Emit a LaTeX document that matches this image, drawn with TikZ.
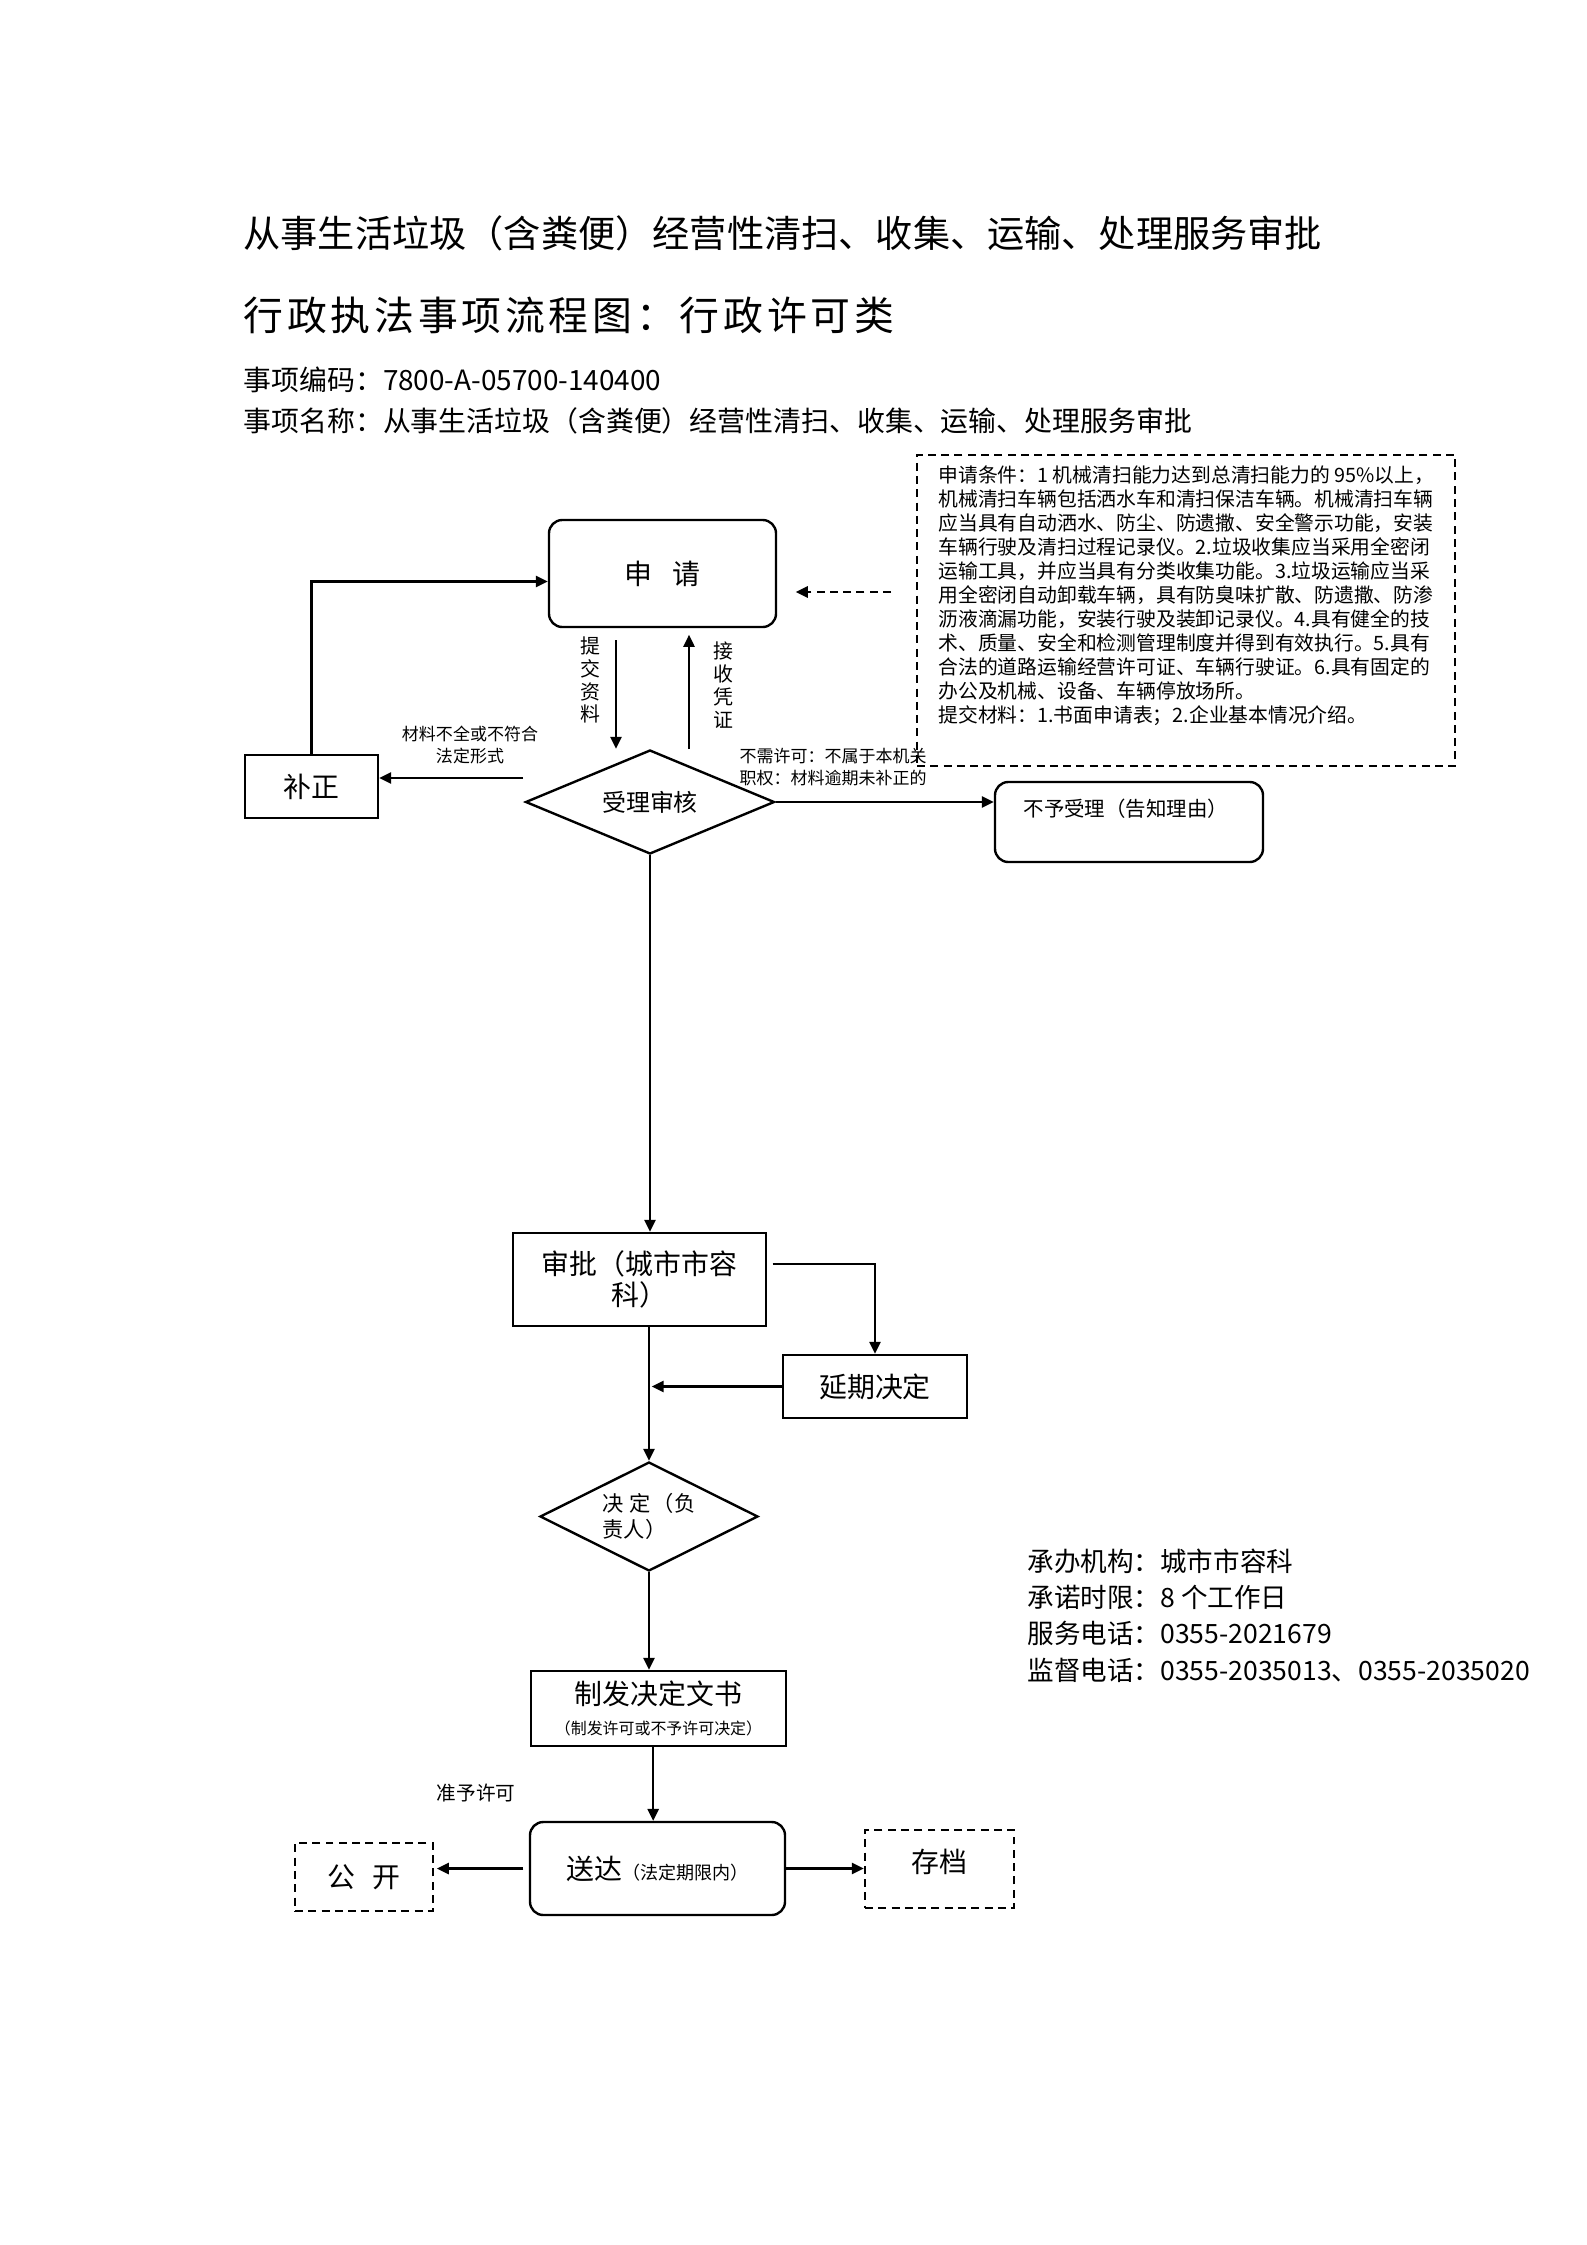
\documentclass[tikz,border=0pt]{standalone}
\usepackage{fontspec}
\setmainfont{Noto Sans CJK SC}
\newfontfamily\spacedfont{Noto Sans CJK SC}[LetterSpace=9.5]
\usepackage{tikz}
\usetikzlibrary{arrows.meta, shapes.geometric}
\definecolor{ink}{HTML}{000000}
\newlength{\pxu}
\setlength{\pxu}{0.013233cm}
\tikzset{
  stepbox/.style  = {rectangle, draw=ink, line width=0.9pt, inner sep=0pt,
                     align=center, font=\fontsize{10.5}{12}\selectfont},
  roundbox/.style = {stepbox, rounded corners=5pt},
  dashbox/.style  = {stepbox, dash pattern=on 3pt off 2pt},
  choice/.style   = {diamond, draw=ink, line width=0.9pt, inner sep=0pt,
                     align=center, aspect=2},
  tag/.style      = {inner sep=0pt, align=center, font=\fontsize{6.4}{8}\selectfont},
  headline/.style = {anchor=west, inner sep=0pt},
  ar/.style       = {-{Triangle[length=4.5pt,width=4.2pt]}, line width=0.8pt, draw=ink},
  dar/.style      = {ar, dash pattern=on 3pt off 2pt},
}

\begin{document}
\begin{tikzpicture}[x=1\pxu, y=-1\pxu]
  \useasboundingbox (0,0) rectangle (1587,2245);

  % header
  \node[headline, font=\fontsize{14}{16}\selectfont] (title) at (243,233)
       {从事生活垃圾（含粪便）经营性清扫、收集、运输、处理服务审批};
  \node[headline, font=\spacedfont\fontsize{15}{17}\selectfont] (subtitle) at (243,315)
       {行政执法事项流程图：行政许可类};
  \node[headline, font=\fontsize{10.5}{12}\selectfont] (code) at (243,380)
       {事项编码：7800-A-05700-140400};
  \node[headline, font=\fontsize{10.5}{12}\selectfont] (name) at (243,421)
       {事项名称：从事生活垃圾（含粪便）经营性清扫、收集、运输、处理服务审批};

  % conditions
  \node[dashbox, minimum width=538\pxu, minimum height=311\pxu] (cond) at (1186,610.5) {};
  \node[headline, align=left, font=\fontsize{7.45}{9.02}\selectfont] (condtext) at (938,596)
       {申请条件：1 机械清扫能力达到总清扫能力的 95\%以上，\\
        机械清扫车辆包括洒水车和清扫保洁车辆。机械清扫车辆\\
        应当具有自动洒水、防尘、防遗撒、安全警示功能，安装\\
        车辆行驶及清扫过程记录仪。2.垃圾收集应当采用全密闭\\
        运输工具，并应当具有分类收集功能。3.垃圾运输应当采\\
        用全密闭自动卸载车辆，具有防臭味扩散、防遗撒、防渗\\
        沥液滴漏功能，安装行驶及装卸记录仪。4.具有健全的技\\
        术、质量、安全和检测管理制度并得到有效执行。5.具有\\
        合法的道路运输经营许可证、车辆行驶证。6.具有固定的\\
        办公及机械、设备、车辆停放场所。\\
        提交材料：1.书面申请表；2.企业基本情况介绍。};

  % flow
  \node[roundbox, minimum width=227\pxu, minimum height=107\pxu] (apply) at (662.5,573.5) {申\hspace{0.7em}请};
  \node[stepbox, minimum width=133\pxu, minimum height=63\pxu] (fix) at (311.5,786.5) {补正};
  \node[choice, minimum width=249\pxu, minimum height=104\pxu, font=\fontsize{9}{11}\selectfont] (accept) at (650,802) {受理审核};
  \node[roundbox, minimum width=268\pxu, minimum height=80\pxu] (refuse) at (1129,822) {};
  \node[headline, font=\fontsize{7.7}{9}\selectfont] (refusetext) at (1023,809) {不予受理（告知理由）};
  \node[stepbox, minimum width=253\pxu, minimum height=93\pxu, font=\fontsize{10.5}{11.5}\selectfont] (approve) at (639.5,1279.5) {审批（城市市容\\科）};
  \node[stepbox, minimum width=184\pxu, minimum height=63\pxu] (delay) at (875,1386.5) {延期决定};
  \node[choice, minimum width=218\pxu, minimum height=109\pxu, align=left, font=\fontsize{8}{10}\selectfont] (decide) at (649,1516.5) {决\hspace{2pt}定\hspace{1pt}（负\\责人）};
  \node[stepbox, minimum width=255\pxu, minimum height=75\pxu] (issue) at (658.5,1708.5) {制发决定文书\\[-1pt]{\fontsize{6}{7}\selectfont（制发许可或不予许可决定）}};
  \node[roundbox, minimum width=255\pxu, minimum height=93\pxu] (deliver) at (657.5,1868.5) {送达{\fontsize{6.8}{8}\selectfont（法定期限内）}};
  \node[dashbox, minimum width=138\pxu, minimum height=68\pxu] (public) at (364,1877) {公\hspace{0.6em}开};
  \node[dashbox, minimum width=149\pxu, minimum height=78\pxu, text depth=6pt] (archive) at (939.5,1869) {存档};

  % labels
  \node[tag, font=\fontsize{7.5}{8.6}\selectfont] (sublabel) at (590,680) {提\\交\\资\\料};
  \node[tag, font=\fontsize{7.5}{8.6}\selectfont] (rcptlabel) at (723,685) {接\\收\\凭\\证};
  \node[tag] (fixlabel) at (470,745) {材料不全或不符合\\法定形式};
  \node[tag, anchor=west, align=left] (refuselabel) at (739,767) {不需许可：不属于本机关\\职权：材料逾期未补正的};
  \node[tag, font=\fontsize{7.4}{9}\selectfont] (grantlabel) at (476,1793) {准予许可};

  % contacts
  \node[headline, align=left, font=\fontsize{10}{13.7}\selectfont] (info) at (1027,1615.5)
       {承办机构：城市市容科\\承诺时限：8 个工作日\\服务电话：0355-2021679\\监督电话：0355-2035013、0355-2035020};

  % connectors
  \coordinate (hint) at (891,592);
  \coordinate (subtop) at (616,640);
  \coordinate (rcptbot) at (689,749);
  \coordinate (fixfrom) at (523,778);

  \draw[ar] (fix.north) |- ([yshift=-3pt]apply.west);
  \draw[dar] (hint) -- ([xshift=7pt]hint -| apply.east);
  \draw[ar] (subtop) -- (subtop |- accept.north);
  \draw[ar] (rcptbot) -- ([yshift=-2.5pt]rcptbot |- apply.south);
  \draw[ar] (fixfrom) -- (fixfrom -| fix.east);
  \draw[ar] (accept.east) -- (accept.east -| refuse.west);
  \draw[ar] (accept.south) -- (accept.south |- approve.north);
  \draw[ar] ([shift={(2pt,6pt)}]approve.east) -| (delay.north);
  \draw[ar] (delay.west) -- ([xshift=1pt]delay.west -| decide.north);
  \draw[ar] (approve.south -| decide.north) -- (decide.north);
  \draw[ar] (decide.south) -- (decide.south |- issue.north);
  \draw[ar] ([xshift=-2pt]issue.south) -- ([xshift=-2pt]issue.south |- deliver.north);
  \draw[ar] ([xshift=-2pt]deliver.west) -- ([xshift=1pt]deliver.west -| public.east);
  \draw[ar] (deliver.east) -- (deliver.east -| archive.west);
\end{tikzpicture}
\end{document}
